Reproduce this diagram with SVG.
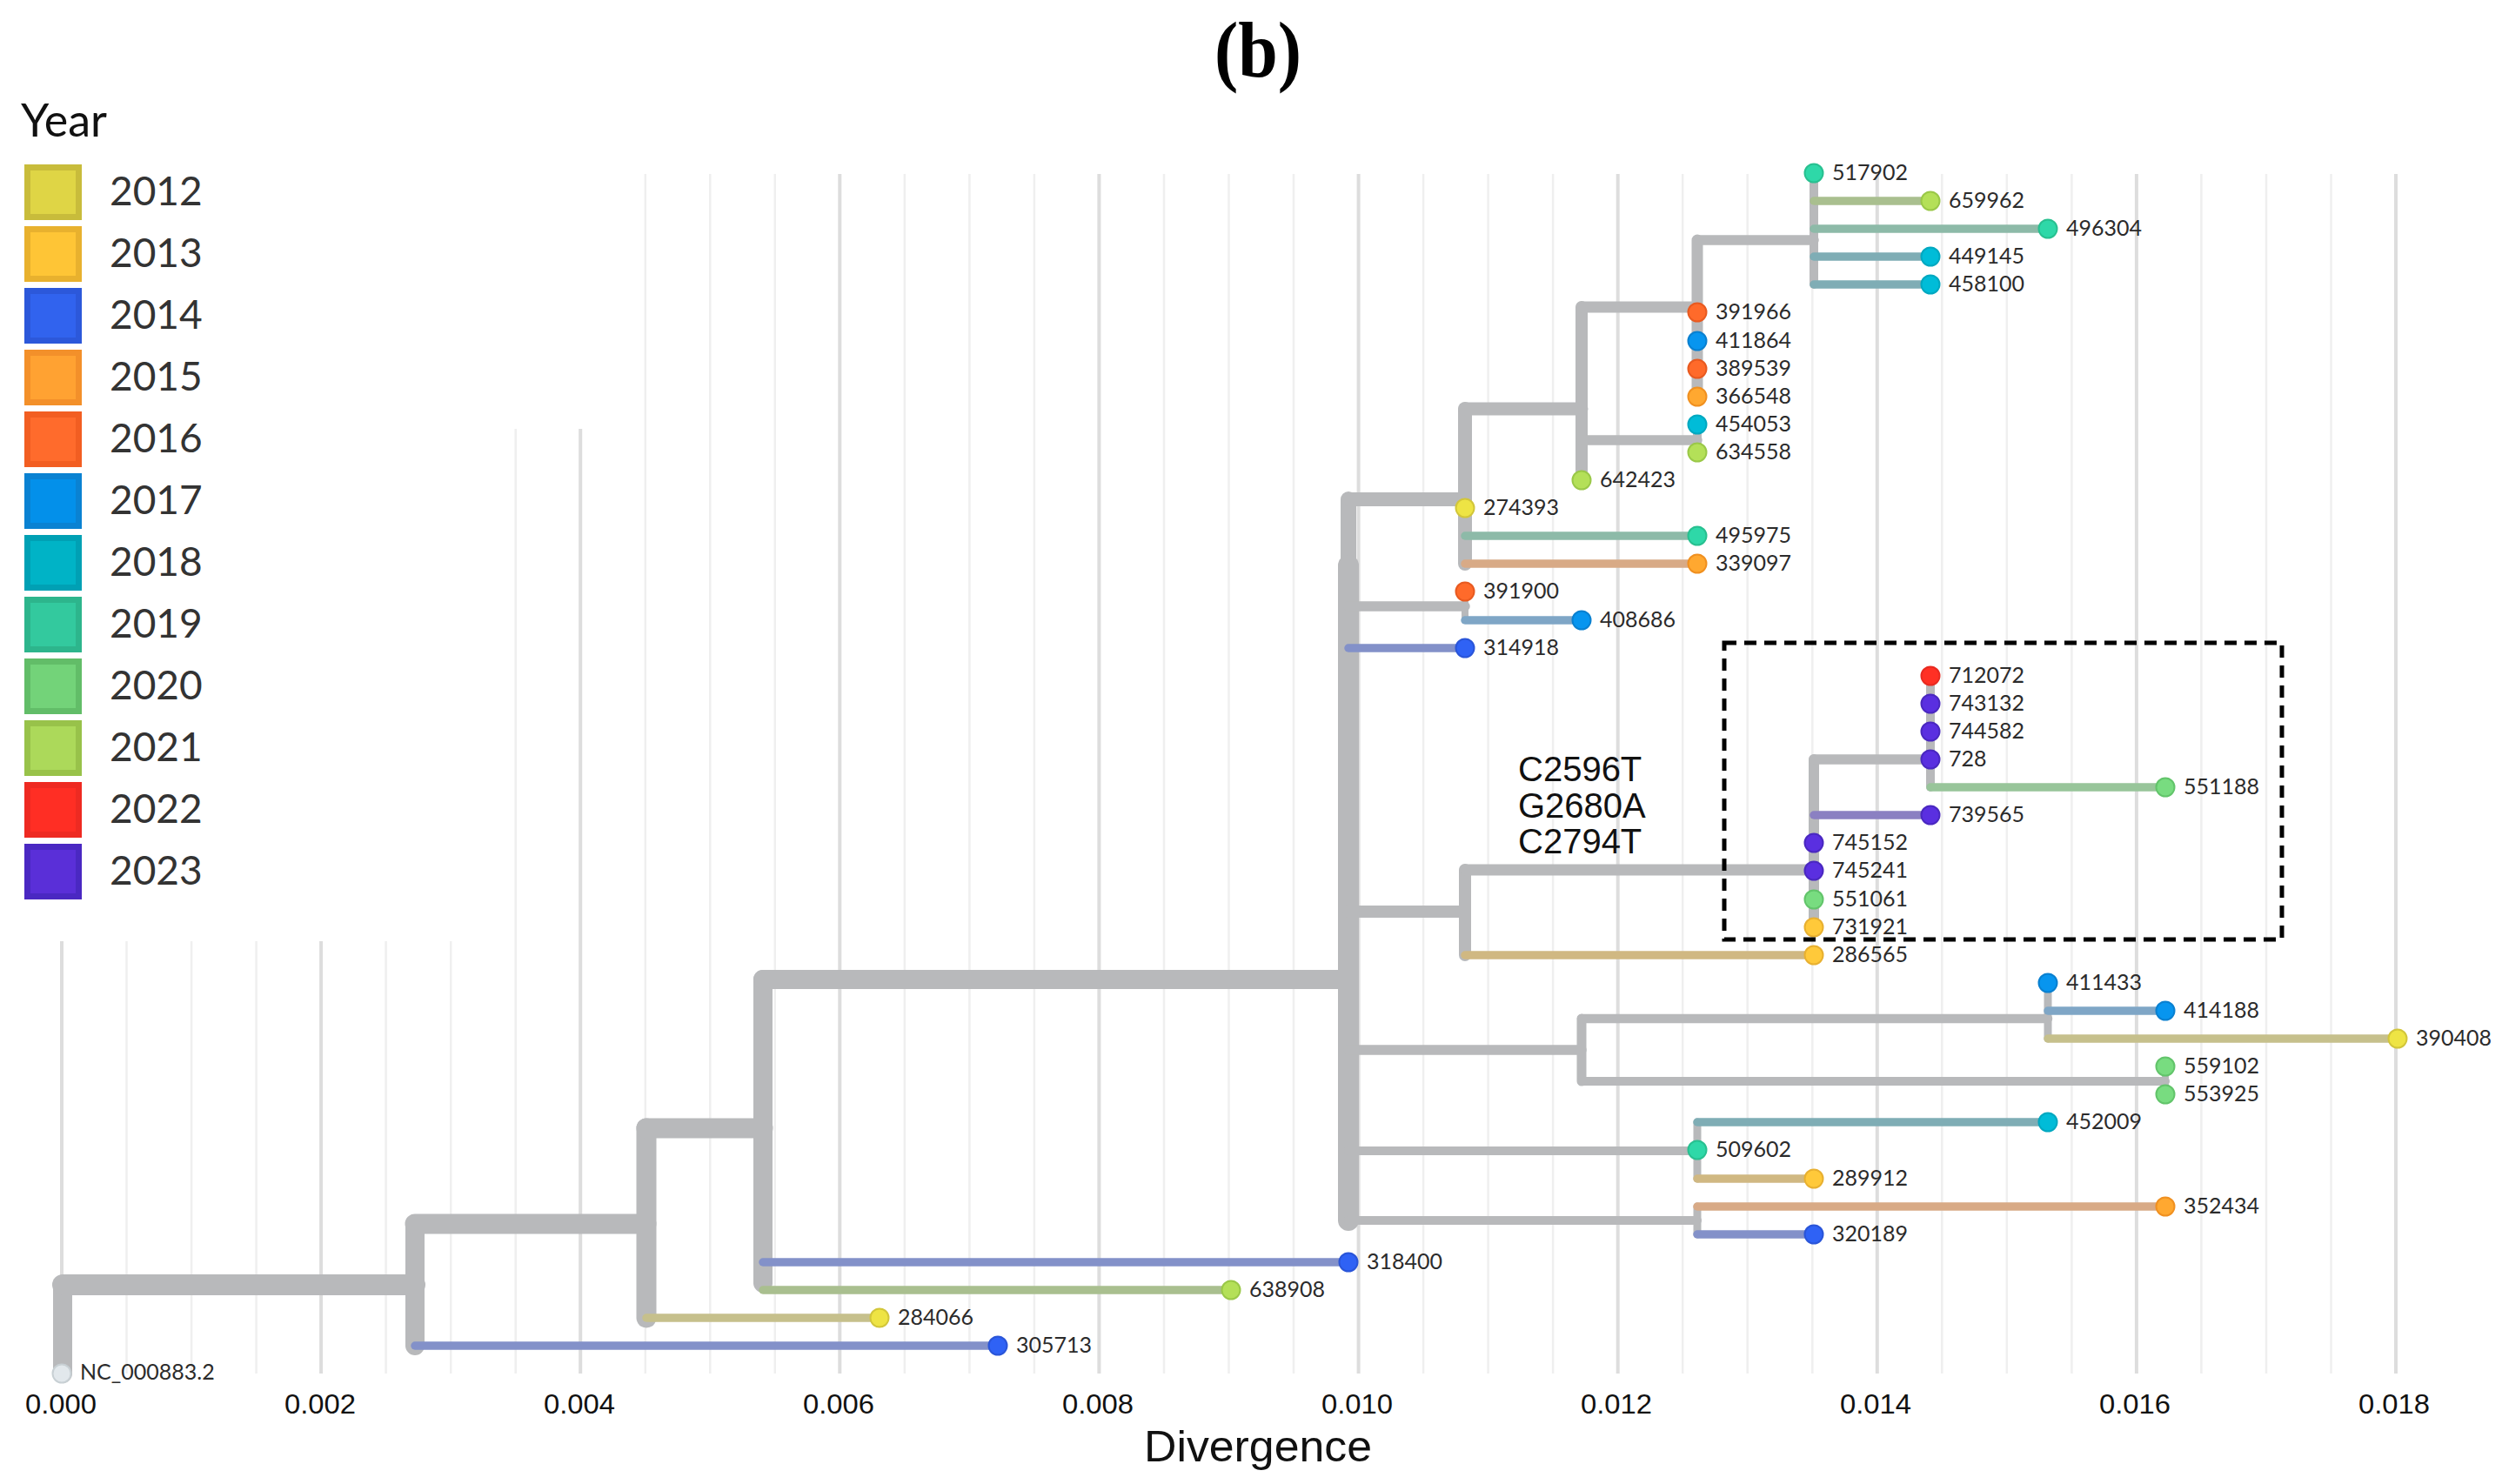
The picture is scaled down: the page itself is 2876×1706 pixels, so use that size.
<svg xmlns="http://www.w3.org/2000/svg" width="2876" height="1706" viewBox="0 0 2876 1706">
<style>
.gmin{stroke:#efefef;stroke-width:2.5}
.gmaj{stroke:#dddddd;stroke-width:4}
.tick{font-family:"Liberation Sans",Arial,sans-serif;font-size:32px;fill:#111;text-anchor:middle}
.leg{font-family:Lato,"Liberation Sans",sans-serif;font-size:46px;fill:#333}
.lab{font-family:Lato,"Liberation Sans",sans-serif;font-size:25px;fill:#2b2b2b}
.g{stroke:#b8b9bb;fill:none;stroke-linecap:round}
.tb{fill:none;stroke-width:9.5;stroke-linecap:round}
.b12{stroke:#c6c08c}.b13{stroke:#d0b882}.b14{stroke:#8391c9}.b15{stroke:#d8aa86}
.b17{stroke:#7fa6c6}.b18{stroke:#7fadb5}.b19{stroke:#8dbaa8}.b20{stroke:#98c59a}
.b21{stroke:#a9bf8f}.b23{stroke:#8b80c2}
.d{stroke-width:2}
.y12{fill:#eee444;stroke:#d2c63a}.y13{fill:#ffc93a;stroke:#e8b030}.y14{fill:#2f62f5;stroke:#2a55d8}
.y15{fill:#ffa830;stroke:#f09020}.y16{fill:#ff6a2a;stroke:#e85a20}.y17{fill:#0795ef;stroke:#0a80d0}
.y18{fill:#00bcd8;stroke:#00a8c0}.y19{fill:#2ed8a8;stroke:#28c090}.y20{fill:#78dc80;stroke:#62c46a}
.y21{fill:#b4e058;stroke:#9ac848}.y22{fill:#ff3024;stroke:#e82a20}.y23{fill:#5a2fe0;stroke:#4a28c0}
.y00{fill:#e2e8ec;stroke:#c8d0d4}
.mut{font-family:"Liberation Sans",Arial,sans-serif;font-size:40px;fill:#111}
</style>
<rect x="0" y="0" width="2876" height="1706" fill="#ffffff"/>
<text x="1446" y="88" font-family="Liberation Serif,Times New Roman,serif" font-weight="bold" font-size="90" text-anchor="middle" fill="#000" textLength="100" lengthAdjust="spacingAndGlyphs">(b)</text>
<g id="grid">
<line class="gmaj" x1="71" y1="1082" x2="71" y2="1579"/>
<line class="gmin" x1="145.5" y1="1082" x2="145.5" y2="1579"/>
<line class="gmin" x1="220.1" y1="1082" x2="220.1" y2="1579"/>
<line class="gmin" x1="294.6" y1="1082" x2="294.6" y2="1579"/>
<line class="gmaj" x1="369.1" y1="1082" x2="369.1" y2="1579"/>
<line class="gmin" x1="443.6" y1="1082" x2="443.6" y2="1579"/>
<line class="gmin" x1="518.2" y1="1082" x2="518.2" y2="1579"/>
<line class="gmin" x1="592.7" y1="493" x2="592.7" y2="1579"/>
<line class="gmaj" x1="667.2" y1="493" x2="667.2" y2="1579"/>
<line class="gmin" x1="741.8" y1="200" x2="741.8" y2="1579"/>
<line class="gmin" x1="816.3" y1="200" x2="816.3" y2="1579"/>
<line class="gmin" x1="890.8" y1="200" x2="890.8" y2="1579"/>
<line class="gmaj" x1="965.3" y1="200" x2="965.3" y2="1579"/>
<line class="gmin" x1="1039.9" y1="200" x2="1039.9" y2="1579"/>
<line class="gmin" x1="1114.4" y1="200" x2="1114.4" y2="1579"/>
<line class="gmin" x1="1188.9" y1="200" x2="1188.9" y2="1579"/>
<line class="gmaj" x1="1263.4" y1="200" x2="1263.4" y2="1579"/>
<line class="gmin" x1="1338" y1="200" x2="1338" y2="1579"/>
<line class="gmin" x1="1412.5" y1="200" x2="1412.5" y2="1579"/>
<line class="gmin" x1="1487" y1="200" x2="1487" y2="1579"/>
<line class="gmaj" x1="1561.6" y1="200" x2="1561.6" y2="1579"/>
<line class="gmin" x1="1636.1" y1="200" x2="1636.1" y2="1579"/>
<line class="gmin" x1="1710.6" y1="200" x2="1710.6" y2="1579"/>
<line class="gmin" x1="1785.1" y1="200" x2="1785.1" y2="1579"/>
<line class="gmaj" x1="1859.7" y1="200" x2="1859.7" y2="1579"/>
<line class="gmin" x1="1934.2" y1="200" x2="1934.2" y2="1579"/>
<line class="gmin" x1="2008.7" y1="200" x2="2008.7" y2="1579"/>
<line class="gmin" x1="2083.3" y1="200" x2="2083.3" y2="1579"/>
<line class="gmaj" x1="2157.8" y1="200" x2="2157.8" y2="1579"/>
<line class="gmin" x1="2232.3" y1="200" x2="2232.3" y2="1579"/>
<line class="gmin" x1="2306.8" y1="200" x2="2306.8" y2="1579"/>
<line class="gmin" x1="2381.4" y1="200" x2="2381.4" y2="1579"/>
<line class="gmaj" x1="2455.9" y1="200" x2="2455.9" y2="1579"/>
<line class="gmin" x1="2530.4" y1="200" x2="2530.4" y2="1579"/>
<line class="gmin" x1="2605" y1="200" x2="2605" y2="1579"/>
<line class="gmin" x1="2679.5" y1="200" x2="2679.5" y2="1579"/>
<line class="gmaj" x1="2754" y1="200" x2="2754" y2="1579"/>
</g>
<g id="axis">
<text class="tick" x="70" y="1625" textLength="82" lengthAdjust="spacingAndGlyphs">0.000</text>
<text class="tick" x="368" y="1625" textLength="82" lengthAdjust="spacingAndGlyphs">0.002</text>
<text class="tick" x="666" y="1625" textLength="82" lengthAdjust="spacingAndGlyphs">0.004</text>
<text class="tick" x="964" y="1625" textLength="82" lengthAdjust="spacingAndGlyphs">0.006</text>
<text class="tick" x="1262" y="1625" textLength="82" lengthAdjust="spacingAndGlyphs">0.008</text>
<text class="tick" x="1560" y="1625" textLength="82" lengthAdjust="spacingAndGlyphs">0.010</text>
<text class="tick" x="1858" y="1625" textLength="82" lengthAdjust="spacingAndGlyphs">0.012</text>
<text class="tick" x="2156" y="1625" textLength="82" lengthAdjust="spacingAndGlyphs">0.014</text>
<text class="tick" x="2454" y="1625" textLength="82" lengthAdjust="spacingAndGlyphs">0.016</text>
<text class="tick" x="2752" y="1625" textLength="82" lengthAdjust="spacingAndGlyphs">0.018</text>
<text x="1446" y="1680" font-family="Liberation Sans,Arial,sans-serif" font-size="50" text-anchor="middle" fill="#111" textLength="262" lengthAdjust="spacingAndGlyphs">Divergence</text>
</g>
<g id="legend">
<text x="24" y="157" font-family="Lato,Liberation Sans,sans-serif" font-size="52" fill="#111">Year</text>
<rect x="31.5" y="192.5" width="59" height="57" fill="#dfd545" stroke="#c8bc3b" stroke-width="7"/><text class="leg" x="126" y="236">2012</text>
<rect x="31.5" y="263.5" width="59" height="57" fill="#fec536" stroke="#e8b12e" stroke-width="7"/><text class="leg" x="126" y="307">2013</text>
<rect x="31.5" y="334.5" width="59" height="57" fill="#3163ee" stroke="#2c58da" stroke-width="7"/><text class="leg" x="126" y="378">2014</text>
<rect x="31.5" y="405.5" width="59" height="57" fill="#ffa232" stroke="#f3902a" stroke-width="7"/><text class="leg" x="126" y="449">2015</text>
<rect x="31.5" y="476.5" width="59" height="57" fill="#ff6b2c" stroke="#f25e22" stroke-width="7"/><text class="leg" x="126" y="520">2016</text>
<rect x="31.5" y="547.5" width="59" height="57" fill="#0390ea" stroke="#0a82d2" stroke-width="7"/><text class="leg" x="126" y="591">2017</text>
<rect x="31.5" y="618.5" width="59" height="57" fill="#00b3c6" stroke="#00a0b4" stroke-width="7"/><text class="leg" x="126" y="662">2018</text>
<rect x="31.5" y="689.5" width="59" height="57" fill="#33c99e" stroke="#2db58c" stroke-width="7"/><text class="leg" x="126" y="733">2019</text>
<rect x="31.5" y="760.5" width="59" height="57" fill="#73d379" stroke="#62bd68" stroke-width="7"/><text class="leg" x="126" y="804">2020</text>
<rect x="31.5" y="831.5" width="59" height="57" fill="#acd95a" stroke="#98c24a" stroke-width="7"/><text class="leg" x="126" y="875">2021</text>
<rect x="31.5" y="902.5" width="59" height="57" fill="#ff2e24" stroke="#ee2a22" stroke-width="7"/><text class="leg" x="126" y="946">2022</text>
<rect x="31.5" y="973.5" width="59" height="57" fill="#5a2fd8" stroke="#4a28c2" stroke-width="7"/><text class="leg" x="126" y="1017">2023</text>
</g>
<g id="connectors">
<g class="g">
<line x1="72" y1="1477" x2="72" y2="1579" stroke-width="22"/>
<line x1="72" y1="1477" x2="477" y2="1477" stroke-width="24"/>
<line x1="477" y1="1407" x2="477" y2="1547" stroke-width="22"/>
<line x1="477" y1="1407" x2="743" y2="1407" stroke-width="23"/>
<line x1="743" y1="1297" x2="743" y2="1515" stroke-width="23"/>
<line x1="743" y1="1297" x2="877" y2="1297" stroke-width="23"/>
<line x1="877" y1="1126" x2="877" y2="1475" stroke-width="22"/>
<line x1="877" y1="1126" x2="1550" y2="1126" stroke-width="22"/>
<line x1="1550" y1="574" x2="1550" y2="650" stroke-width="18"/>
<line x1="1550" y1="650" x2="1550" y2="1403" stroke-width="24"/>
<line x1="1550" y1="574" x2="1684" y2="574" stroke-width="16"/>
<line x1="1684" y1="470" x2="1684" y2="648" stroke-width="16"/>
<line x1="1684" y1="470" x2="1818" y2="470" stroke-width="15"/>
<line x1="1818" y1="353" x2="1818" y2="552" stroke-width="14"/>
<line x1="1818" y1="353" x2="1951" y2="353" stroke-width="13"/>
<line x1="1951" y1="276" x2="1951" y2="456" stroke-width="13"/>
<line x1="1951" y1="276" x2="2085" y2="276" stroke-width="11.5"/>
<line x1="2085" y1="199" x2="2085" y2="327" stroke-width="10"/>
<line x1="1818" y1="506" x2="1951" y2="506" stroke-width="11.5"/>
<line x1="1951" y1="488" x2="1951" y2="520" stroke-width="10"/>
<line x1="1550" y1="697" x2="1684" y2="697" stroke-width="11.5"/>
<line x1="1684" y1="680" x2="1684" y2="713" stroke-width="8"/>
<line x1="1550" y1="1048" x2="1684" y2="1048" stroke-width="14"/>
<line x1="1684" y1="1000" x2="1684" y2="1098" stroke-width="14"/>
<line x1="1684" y1="1000" x2="2085" y2="1000" stroke-width="13"/>
<line x1="2085" y1="873" x2="2085" y2="1066" stroke-width="12"/>
<line x1="2085" y1="873" x2="2219" y2="873" stroke-width="11.5"/>
<line x1="2219" y1="777" x2="2219" y2="905" stroke-width="10"/>
<line x1="1550" y1="1207" x2="1818" y2="1207" stroke-width="11.5"/>
<line x1="1818" y1="1171" x2="1818" y2="1243" stroke-width="11"/>
<line x1="1818" y1="1171" x2="2354" y2="1171" stroke-width="10.5"/>
<line x1="2354" y1="1130" x2="2354" y2="1194" stroke-width="9"/>
<line x1="1818" y1="1243" x2="2489" y2="1243" stroke-width="10"/>
<line x1="2489" y1="1226" x2="2489" y2="1258" stroke-width="8"/>
<line x1="1550" y1="1323" x2="1951" y2="1323" stroke-width="10"/>
<line x1="1951" y1="1290" x2="1951" y2="1355" stroke-width="9"/>
<line x1="1550" y1="1403" x2="1951" y2="1403" stroke-width="10"/>
<line x1="1951" y1="1387" x2="1951" y2="1419" stroke-width="9"/>
</g>
<line class="tb b21" x1="2085" y1="231" x2="2219" y2="231"/>
<line class="tb b19" x1="2085" y1="263" x2="2354" y2="263"/>
<line class="tb b18" x1="2085" y1="295" x2="2219" y2="295"/>
<line class="tb b18" x1="2085" y1="327" x2="2219" y2="327"/>
<line class="tb b19" x1="1684" y1="616" x2="1951" y2="616"/>
<line class="tb b15" x1="1684" y1="648" x2="1951" y2="648"/>
<line class="tb b17" x1="1684" y1="713" x2="1818" y2="713"/>
<line class="tb b14" x1="1550" y1="745" x2="1684" y2="745"/>
<line class="tb b20" x1="2219" y1="905" x2="2489" y2="905"/>
<line class="tb b23" x1="2085" y1="937" x2="2219" y2="937"/>
<line class="tb b13" x1="1684" y1="1098" x2="2085" y2="1098"/>
<line class="tb b17" x1="2354" y1="1162" x2="2489" y2="1162"/>
<line class="tb b12" x1="2354" y1="1194" x2="2756" y2="1194"/>
<line class="tb b18" x1="1951" y1="1290" x2="2354" y2="1290"/>
<line class="tb b13" x1="1951" y1="1355" x2="2085" y2="1355"/>
<line class="tb b15" x1="1951" y1="1387" x2="2489" y2="1387"/>
<line class="tb b14" x1="1951" y1="1419" x2="2085" y2="1419"/>
<line class="tb b14" x1="877" y1="1451" x2="1550" y2="1451"/>
<line class="tb b21" x1="877" y1="1483" x2="1415" y2="1483"/>
<line class="tb b12" x1="743" y1="1515" x2="1011" y2="1515"/>
<line class="tb b14" x1="477" y1="1547" x2="1147" y2="1547"/>
</g>
<g id="tips">
<g id="t517902"><circle class="d y19" cx="2085" cy="199" r="10.5"/><text class="lab" x="2106" y="207">517902</text></g>
<g id="t659962"><circle class="d y21" cx="2219" cy="231" r="10.5"/><text class="lab" x="2240" y="239">659962</text></g>
<g id="t496304"><circle class="d y19" cx="2354" cy="263" r="10.5"/><text class="lab" x="2375" y="271">496304</text></g>
<g id="t449145"><circle class="d y18" cx="2219" cy="295" r="10.5"/><text class="lab" x="2240" y="303">449145</text></g>
<g id="t458100"><circle class="d y18" cx="2219" cy="327" r="10.5"/><text class="lab" x="2240" y="335">458100</text></g>
<g id="t391966"><circle class="d y16" cx="1951" cy="359" r="10.5"/><text class="lab" x="1972" y="367">391966</text></g>
<g id="t411864"><circle class="d y17" cx="1951" cy="392" r="10.5"/><text class="lab" x="1972" y="400">411864</text></g>
<g id="t389539"><circle class="d y16" cx="1951" cy="424" r="10.5"/><text class="lab" x="1972" y="432">389539</text></g>
<g id="t366548"><circle class="d y15" cx="1951" cy="456" r="10.5"/><text class="lab" x="1972" y="464">366548</text></g>
<g id="t454053"><circle class="d y18" cx="1951" cy="488" r="10.5"/><text class="lab" x="1972" y="496">454053</text></g>
<g id="t634558"><circle class="d y21" cx="1951" cy="520" r="10.5"/><text class="lab" x="1972" y="528">634558</text></g>
<g id="t642423"><circle class="d y21" cx="1818" cy="552" r="10.5"/><text class="lab" x="1839" y="560">642423</text></g>
<g id="t274393"><circle class="d y12" cx="1684" cy="584" r="10.5"/><text class="lab" x="1705" y="592">274393</text></g>
<g id="t495975"><circle class="d y19" cx="1951" cy="616" r="10.5"/><text class="lab" x="1972" y="624">495975</text></g>
<g id="t339097"><circle class="d y15" cx="1951" cy="648" r="10.5"/><text class="lab" x="1972" y="656">339097</text></g>
<g id="t391900"><circle class="d y16" cx="1684" cy="680" r="10.5"/><text class="lab" x="1705" y="688">391900</text></g>
<g id="t408686"><circle class="d y17" cx="1818" cy="713" r="10.5"/><text class="lab" x="1839" y="721">408686</text></g>
<g id="t314918"><circle class="d y14" cx="1684" cy="745" r="10.5"/><text class="lab" x="1705" y="753">314918</text></g>
<g id="t712072"><circle class="d y22" cx="2219" cy="777" r="10.5"/><text class="lab" x="2240" y="785">712072</text></g>
<g id="t743132"><circle class="d y23" cx="2219" cy="809" r="10.5"/><text class="lab" x="2240" y="817">743132</text></g>
<g id="t744582"><circle class="d y23" cx="2219" cy="841" r="10.5"/><text class="lab" x="2240" y="849">744582</text></g>
<g id="t728"><circle class="d y23" cx="2219" cy="873" r="10.5"/><text class="lab" x="2240" y="881">728</text></g>
<g id="t551188"><circle class="d y20" cx="2489" cy="905" r="10.5"/><text class="lab" x="2510" y="913">551188</text></g>
<g id="t739565"><circle class="d y23" cx="2219" cy="937" r="10.5"/><text class="lab" x="2240" y="945">739565</text></g>
<g id="t745152"><circle class="d y23" cx="2085" cy="969" r="10.5"/><text class="lab" x="2106" y="977">745152</text></g>
<g id="t745241"><circle class="d y23" cx="2085" cy="1001" r="10.5"/><text class="lab" x="2106" y="1009">745241</text></g>
<g id="t551061"><circle class="d y20" cx="2085" cy="1034" r="10.5"/><text class="lab" x="2106" y="1042">551061</text></g>
<g id="t731921"><circle class="d y13" cx="2085" cy="1066" r="10.5"/><text class="lab" x="2106" y="1074">731921</text></g>
<g id="t286565"><circle class="d y13" cx="2085" cy="1098" r="10.5"/><text class="lab" x="2106" y="1106">286565</text></g>
<g id="t411433"><circle class="d y17" cx="2354" cy="1130" r="10.5"/><text class="lab" x="2375" y="1138">411433</text></g>
<g id="t414188"><circle class="d y17" cx="2489" cy="1162" r="10.5"/><text class="lab" x="2510" y="1170">414188</text></g>
<g id="t390408"><circle class="d y12" cx="2756" cy="1194" r="10.5"/><text class="lab" x="2777" y="1202">390408</text></g>
<g id="t559102"><circle class="d y20" cx="2489" cy="1226" r="10.5"/><text class="lab" x="2510" y="1234">559102</text></g>
<g id="t553925"><circle class="d y20" cx="2489" cy="1258" r="10.5"/><text class="lab" x="2510" y="1266">553925</text></g>
<g id="t452009"><circle class="d y18" cx="2354" cy="1290" r="10.5"/><text class="lab" x="2375" y="1298">452009</text></g>
<g id="t509602"><circle class="d y19" cx="1951" cy="1322" r="10.5"/><text class="lab" x="1972" y="1330">509602</text></g>
<g id="t289912"><circle class="d y13" cx="2085" cy="1355" r="10.5"/><text class="lab" x="2106" y="1363">289912</text></g>
<g id="t352434"><circle class="d y15" cx="2489" cy="1387" r="10.5"/><text class="lab" x="2510" y="1395">352434</text></g>
<g id="t320189"><circle class="d y14" cx="2085" cy="1419" r="10.5"/><text class="lab" x="2106" y="1427">320189</text></g>
<g id="t318400"><circle class="d y14" cx="1550" cy="1451" r="10.5"/><text class="lab" x="1571" y="1459">318400</text></g>
<g id="t638908"><circle class="d y21" cx="1415" cy="1483" r="10.5"/><text class="lab" x="1436" y="1491">638908</text></g>
<g id="t284066"><circle class="d y12" cx="1011" cy="1515" r="10.5"/><text class="lab" x="1032" y="1523">284066</text></g>
<g id="t305713"><circle class="d y14" cx="1147" cy="1547" r="10.5"/><text class="lab" x="1168" y="1555">305713</text></g>
<g id="tNC"><circle class="d y00" cx="71" cy="1579" r="10.5"/><text class="lab" x="92" y="1586" font-size="23">NC_000883.2</text></g>
</g>
<g id="annotation">
<text class="mut" x="1745" y="898">C2596T</text>
<text class="mut" x="1745" y="940">G2680A</text>
<text class="mut" x="1745" y="981">C2794T</text>
<rect x="1982" y="739" width="641" height="341" fill="none" stroke="#000" stroke-width="5" stroke-dasharray="14 9"/>
</g>
</svg>
